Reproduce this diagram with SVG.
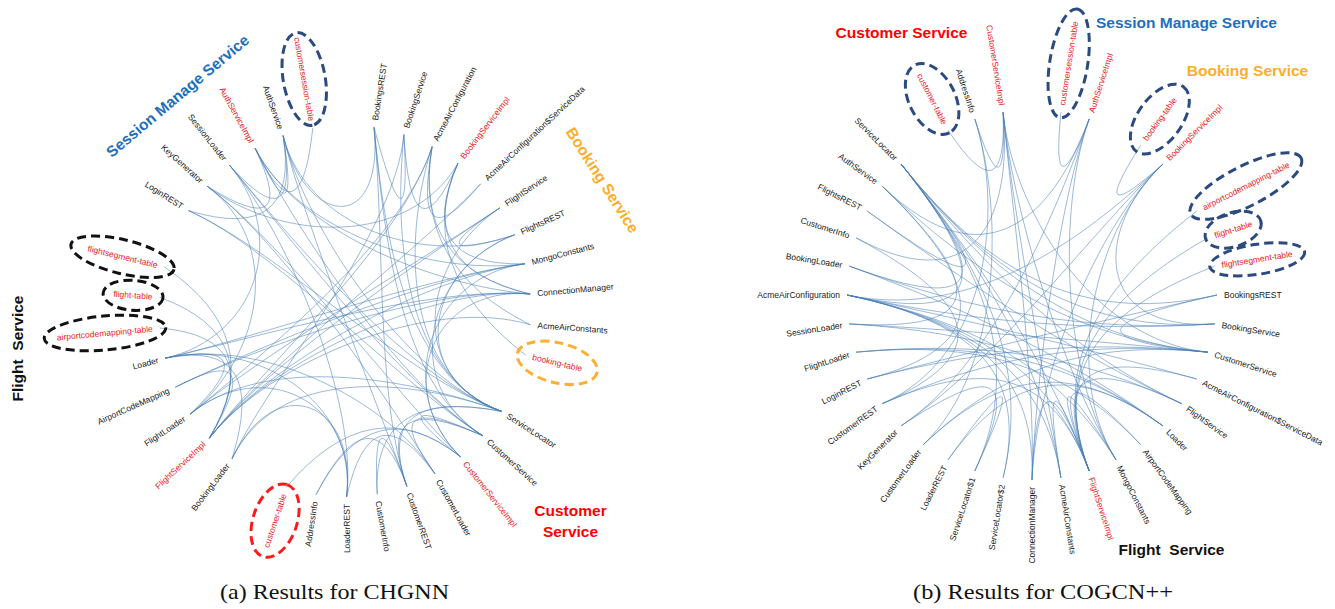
<svg xmlns="http://www.w3.org/2000/svg" width="1335" height="609" viewBox="0 0 1335 609">
<style>
.lbl{font-family:"Liberation Sans",Arial,sans-serif;font-size:8.5px;fill:#1a1a1a}
.red{fill:#e8201d}
.edges path{fill:none;stroke:#4a80b6;stroke-opacity:.55;stroke-width:1}
.ttl{font-family:"Liberation Sans",Arial,sans-serif;font-weight:bold;font-size:15.5px}
.ell{fill:none;stroke-width:3;stroke-dasharray:9 5}
.navy{stroke:#2b4a7e}
.blk{stroke:#111}
.rde{stroke:#ff1a1a}
.org{stroke:#fbb034}
.cap{font-family:"Liberation Serif","Times New Roman",serif;font-size:22px;fill:#111}
</style>
<rect width="1335" height="609" fill="#fff"/>

<!-- LEFT DIAGRAM connectors -->
<g id="left-connectors" class="edges" transform="translate(345 311)">
<path d="M-61.9,-175.4C-39.2,-83.5 59.4,65.2 156.6,100.4"/>
<path d="M-89.9,-162.8C-47.6,-79.7 86.5,-25.7 185.2,-17"/>
<path d="M-89.9,-162.8C-47.6,-79.7 84.9,-34.8 179.9,-47.2"/>
<path d="M-89.9,-162.8C-47.6,-79.7 53.8,72.5 137.9,124.8"/>
<path d="M-115.5,-145.8C-55.3,-74.6 59.4,65.2 156.6,100.4"/>
<path d="M-115.5,-145.8C-55.3,-74.6 53.8,72.5 137.9,124.8"/>
<path d="M-137.9,-124.8C-62,-68.3 47.1,78.8 115.5,145.8"/>
<path d="M-137.9,-124.8C-62,-68.3 64.8,-64.9 113,-147.8"/>
<path d="M-156.6,-100.4C-67.6,-61 59.4,65.2 156.6,100.4"/>
<path d="M-156.6,-100.4C-67.6,-61 53.8,72.5 137.9,124.8"/>
<path d="M-179.9,47.2C-89.1,26.6 -55.3,-74.6 -115.5,-145.8"/>
<path d="M-179.9,47.2C-89.1,26.6 39.4,83.9 89.9,162.8"/>
<path d="M-179.9,47.2C-89.1,26.6 84.9,-34.8 179.9,-47.2"/>
<path d="M-179.9,47.2C-89.1,26.6 86.5,-25.7 185.2,-17"/>
<path d="M-169.7,76.2C-86,35.3 86.5,-25.7 185.2,-17"/>
<path d="M-169.7,76.2C-86,35.3 84.9,-34.8 179.9,-47.2"/>
<path d="M-154.8,103.1C-81.5,43.3 77.3,-51.5 154.8,-103.1"/>
<path d="M-154.8,103.1C-81.5,43.3 59.4,65.2 156.6,100.4"/>
<path d="M-135.7,127.2C-75.8,50.6 77.3,-51.5 154.8,-103.1"/>
<path d="M-135.7,127.2C-75.8,50.6 86.5,-25.7 185.2,-17"/>
<path d="M-135.7,127.2C-75.8,50.6 84.9,-34.8 179.9,-47.2"/>
<path d="M-135.7,127.2C-75.8,50.6 86.6,-16.5 185.5,13.8"/>
<path d="M-135.7,127.2C-75.8,50.6 57,-69.9 87.1,-164.3"/>
<path d="M-135.7,127.2C-75.8,50.6 71.6,-58.8 135.7,-127.2"/>
<path d="M-113,147.8C-69,56.7 48.6,-73.5 58.9,-176.4"/>
<path d="M-113,147.8C-69,56.7 59.4,65.2 156.6,100.4"/>
<path d="M1.6,186C12.9,90.9 -89.1,26.6 -179.9,47.2"/>
<path d="M1.6,186C12.9,90.9 -55.3,-74.6 -115.5,-145.8"/>
<path d="M1.6,186C12.9,90.9 -81.5,43.3 -154.8,103.1"/>
<path d="M1.6,186C12.9,90.9 -69,56.7 -113,147.8"/>
<path d="M61.9,175.4C31,87.7 39.6,-75.7 29,-183.7"/>
<path d="M115.5,145.8C47.1,78.8 86.5,-25.7 185.2,-17"/>
<path d="M115.5,145.8C47.1,78.8 84.9,-34.8 179.9,-47.2"/>
<path d="M156.6,100.4C59.4,65.2 57,-69.9 87.1,-164.3"/>
<path d="M156.6,100.4C59.4,65.2 48.6,-73.5 58.9,-176.4"/>
<path d="M156.6,100.4C59.4,65.2 77.3,-51.5 154.8,-103.1"/>
<path d="M169.7,-76.2C81.8,-43.5 59.4,65.2 156.6,100.4"/>
<path d="M169.7,-76.2C81.8,-43.5 53.8,72.5 137.9,124.8"/>
<path d="M29,-183.7C39.6,-75.7 59.4,65.2 156.6,100.4"/>
<path d="M29,-183.7C39.6,-75.7 53.8,72.5 137.9,124.8"/>
<path d="M87.1,-164.3C57,-69.9 -81.5,43.3 -154.8,103.1"/>
<path d="M-61.9,-175.4C-39.2,-83.5 39.6,-75.7 29,-183.7"/>
<path d="M-61.9,-175.4C-39.2,-83.5 31,87.7 61.9,175.4"/>
<path d="M-61.9,-175.4C-39.2,-83.5 81.8,-43.5 169.7,-76.2"/>
<path d="M-137.9,-124.8C-62,-68.3 39.4,83.9 89.9,162.8"/>
<path d="M-137.9,-124.8C-62,-68.3 -81.5,43.3 -154.8,103.1"/>
<path d="M-32.2,-183.2Q-44.4,-66.6 -89.9,-162.8"/>
<path d="M-61.9,-175.4Q-44.4,-66.6 -89.9,-162.8"/>
<path d="M-115.5,-145.8Q-44.4,-66.6 -61.9,-175.4"/>
<path d="M-156.6,-100.4Q-44.4,-66.6 -61.9,-175.4"/>
<path d="M-137.9,-124.8Q-44.4,-66.6 -89.9,-162.8"/>
<path d="M180.7,44.1Q66.6,-44.4 113,-147.8"/>
<path d="M135.7,-127.2Q66.6,-44.4 87.1,-164.3"/>
<path d="M58.9,-176.4Q66.6,-44.4 29,-183.7"/>
<path d="M113,-147.8Q66.6,-44.4 58.9,-176.4"/>
<path d="M169.7,-76.2Q66.6,-44.4 154.8,-103.1"/>
<path d="M185.2,-17Q66.6,-44.4 87.1,-164.3"/>
<path d="M179.9,-47.2Q66.6,-44.4 113,-147.8"/>
<path d="M185.5,13.8Q66.6,-44.4 87.1,-164.3"/>
<path d="M185.2,-17Q66.6,-44.4 113,-147.8"/>
<path d="M-58.9,176.4Q26.6,75.4 115.5,145.8"/>
<path d="M-29,183.7Q26.6,75.4 115.5,145.8"/>
<path d="M32.2,183.2Q26.6,75.4 61.9,175.4"/>
<path d="M61.9,175.4Q26.6,75.4 137.9,124.8"/>
<path d="M89.9,162.8Q26.6,75.4 137.9,124.8"/>
<path d="M115.5,145.8Q26.6,75.4 137.9,124.8"/>
<path d="M1.6,186Q26.6,75.4 89.9,162.8"/>
<path d="M61.9,175.4Q26.6,75.4 156.6,100.4"/>
<path d="M32.2,183.2Q26.6,75.4 156.6,100.4"/>
<path d="M-29,183.7Q26.6,75.4 61.9,175.4"/>
<path d="M-180.7,-44.1Q-75.4,26.6 -135.7,127.2"/>
<path d="M-185.5,-13.8Q-75.4,26.6 -135.7,127.2"/>
<path d="M-185.2,17Q-75.4,26.6 -135.7,127.2"/>
<path d="M-179.9,47.2Q-75.4,26.6 -154.8,103.1"/>
<path d="M-179.9,47.2Q-75.4,26.6 -113,147.8"/>
<path d="M-169.7,76.2Q-75.4,26.6 -135.7,127.2"/>
</g>

<!-- LEFT DIAGRAM nodes -->
<g id="left-nodes" class="lbl">
<g id="L-BookingsREST" transform="translate(345 311) rotate(-81.03)"><text x="193" dy=".35em">BookingsREST</text></g>
<g id="L-BookingService" transform="translate(345 311) rotate(-71.55)"><text x="193" dy=".35em">BookingService</text></g>
<g id="L-AcmeAirConfiguration" transform="translate(345 311) rotate(-62.08)"><text x="193" dy=".35em">AcmeAirConfiguration</text></g>
<g id="L-BookingServiceImpl" transform="translate(345 311) rotate(-52.61)"><text class="red" x="193" dy=".35em">BookingServiceImpl</text></g>
<g id="L-AcmeAirConfigurationServiceData" transform="translate(345 311) rotate(-43.13)"><text x="193" dy=".35em">AcmeAirConfiguration$ServiceData</text></g>
<g id="L-FlightService" transform="translate(345 311) rotate(-33.66)"><text x="193" dy=".35em">FlightService</text></g>
<g id="L-FlightsREST" transform="translate(345 311) rotate(-24.18)"><text x="193" dy=".35em">FlightsREST</text></g>
<g id="L-MongoConstants" transform="translate(345 311) rotate(-14.71)"><text x="193" dy=".35em">MongoConstants</text></g>
<g id="L-ConnectionManager" transform="translate(345 311) rotate(-5.24)"><text x="193" dy=".35em">ConnectionManager</text></g>
<g id="L-AcmeAirConstants" transform="translate(345 311) rotate(4.24)"><text x="193" dy=".35em">AcmeAirConstants</text></g>
<g id="L-booking-table" transform="translate(345 311) rotate(13.71)"><ellipse class="ell org" cx="218.5" cy="0" rx="41" ry="20"/><text class="red" x="193" dy=".35em">booking-table</text></g>
<g id="L-ServiceLocator" transform="translate(345 311) rotate(32.66)"><text x="193" dy=".35em">ServiceLocator</text></g>
<g id="L-CustomerService" transform="translate(345 311) rotate(42.13)"><text x="193" dy=".35em">CustomerService</text></g>
<g id="L-CustomerServiceImpl" transform="translate(345 311) rotate(51.61)"><text class="red" x="193" dy=".35em">CustomerServiceImpl</text></g>
<g id="L-CustomerLoader" transform="translate(345 311) rotate(61.08)"><text x="193" dy=".35em">CustomerLoader</text></g>
<g id="L-CustomerREST" transform="translate(345 311) rotate(70.55)"><text x="193" dy=".35em">CustomerREST</text></g>
<g id="L-CustomerInfo" transform="translate(345 311) rotate(80.03)"><text x="193" dy=".35em">CustomerInfo</text></g>
<g id="L-LoaderREST" transform="translate(345 311) rotate(269.5)"><text x="-193" dy=".35em" text-anchor="end">LoaderREST</text></g>
<g id="L-AddressInfo" transform="translate(345 311) rotate(278.97)"><text x="-193" dy=".35em" text-anchor="end">AddressInfo</text></g>
<g id="L-customer-table" transform="translate(345 311) rotate(288.45)"><ellipse class="ell rde" cx="-221" cy="0" rx="38" ry="22"/><text class="red" x="-193" dy=".35em" text-anchor="end">customer-table</text></g>
<g id="L-BookingLoader" transform="translate(345 311) rotate(307.4)"><text x="-193" dy=".35em" text-anchor="end">BookingLoader</text></g>
<g id="L-FlightServiceImpl" transform="translate(345 311) rotate(316.87)"><text class="red" x="-193" dy=".35em" text-anchor="end">FlightServiceImpl</text></g>
<g id="L-FlightLoader" transform="translate(345 311) rotate(326.34)"><text x="-193" dy=".35em" text-anchor="end">FlightLoader</text></g>
<g id="L-AirportCodeMapping" transform="translate(345 311) rotate(335.82)"><text x="-193" dy=".35em" text-anchor="end">AirportCodeMapping</text></g>
<g id="L-Loader" transform="translate(345 311) rotate(345.29)"><text x="-193" dy=".35em" text-anchor="end">Loader</text></g>
<g id="L-airportcodemapping-table" transform="translate(345 311) rotate(354.76)"><ellipse class="ell blk" cx="-241" cy="0" rx="61" ry="17"/><text class="red" x="-193" dy=".35em" text-anchor="end">airportcodemapping-table</text></g>
<g id="L-flight-table" transform="translate(345 311) rotate(4.24)"><ellipse class="ell blk" cx="-212.5" cy="0" rx="30" ry="15"/><text class="red" x="-193" dy=".35em" text-anchor="end">flight-table</text></g>
<g id="L-flightsegment-table" transform="translate(345 311) rotate(13.71)"><ellipse class="ell blk" cx="-229" cy="0" rx="53" ry="17"/><text class="red" x="-193" dy=".35em" text-anchor="end">flightsegment-table</text></g>
<g id="L-LoginREST" transform="translate(345 311) rotate(32.66)"><text x="-193" dy=".35em" text-anchor="end">LoginREST</text></g>
<g id="L-KeyGenerator" transform="translate(345 311) rotate(42.13)"><text x="-193" dy=".35em" text-anchor="end">KeyGenerator</text></g>
<g id="L-SessionLoader" transform="translate(345 311) rotate(51.61)"><text x="-193" dy=".35em" text-anchor="end">SessionLoader</text></g>
<g id="L-AuthServiceImpl" transform="translate(345 311) rotate(61.08)"><text class="red" x="-193" dy=".35em" text-anchor="end">AuthServiceImpl</text></g>
<g id="L-AuthService" transform="translate(345 311) rotate(70.55)"><text x="-193" dy=".35em" text-anchor="end">AuthService</text></g>
<g id="L-customersession-table" transform="translate(345 311) rotate(80.03)"><ellipse class="ell navy" cx="-235.5" cy="0" rx="47" ry="21"/><text class="red" x="-193" dy=".35em" text-anchor="end">customersession-table</text></g>
</g>

<!-- RIGHT DIAGRAM connectors -->
<g id="right-connectors" class="edges" transform="translate(1032 295)">
<path d="M-84,-164.8Q-24.7,-76.1 -28.9,-182.7"/>
<path d="M-57.2,-176Q-24.7,-76.1 -28.9,-182.7"/>
<path d="M28.9,-182.7Q18.6,-77.8 57.2,-176"/>
<path d="M108.7,-149.7Q51.9,-60.8 130.8,-130.8"/>
<path d="M-57.2,-176C-28.7,-88.2 -40.9,60.6 -149.7,108.7"/>
<path d="M-57.2,-176C-28.7,-88.2 -28.6,72.9 -108.7,149.7"/>
<path d="M-28.9,-182.7C-20.2,-90.2 56.8,45.2 176,57.2"/>
<path d="M-28.9,-182.7C-20.2,-90.2 4,83.5 0,185"/>
<path d="M-28.9,-182.7C-20.2,-90.2 29.2,77.4 84,164.8"/>
<path d="M-28.9,-182.7C-20.2,-90.2 -48.8,10.8 -176,-57.2"/>
<path d="M-28.9,-182.7C-20.2,-90.2 12.7,82.8 28.9,182.7"/>
<path d="M57.2,-176C25.9,-89 -40.9,-4.6 -149.7,-108.7"/>
<path d="M57.2,-176C25.9,-89 -35.2,67.2 -130.8,130.8"/>
<path d="M57.2,-176C25.9,-89 4,83.5 0,185"/>
<path d="M57.2,-176C25.9,-89 29.2,77.4 84,164.8"/>
<path d="M130.8,-130.8C63.4,-67.5 58.8,36.7 182.7,28.9"/>
<path d="M130.8,-130.8C63.4,-67.5 -35.2,67.2 -130.8,130.8"/>
<path d="M130.8,-130.8C63.4,-67.5 4,83.5 0,185"/>
<path d="M130.8,-130.8C63.4,-67.5 29.2,77.4 84,164.8"/>
<path d="M130.8,-130.8C63.4,-67.5 -51.5,28 -185,0"/>
<path d="M164.8,-84C53.4,2.8 21.2,80.8 57.2,176"/>
<path d="M176,-57.2C56.8,10.8 21.2,80.8 57.2,176"/>
<path d="M182.7,-28.9C58.8,19.3 21.2,80.8 57.2,176"/>
<path d="M185,0C59.5,28 -35.2,-11.2 -130.8,-130.8"/>
<path d="M185,0C59.5,28 56.8,45.2 176,57.2"/>
<path d="M182.7,28.9C58.8,36.7 -35.2,-11.2 -130.8,-130.8"/>
<path d="M182.7,28.9C58.8,36.7 -50.8,19.3 -182.7,-28.9"/>
<path d="M176,57.2C56.8,45.2 -35.2,-11.2 -130.8,-130.8"/>
<path d="M176,57.2C56.8,45.2 -40.9,60.6 -149.7,108.7"/>
<path d="M176,57.2C56.8,45.2 -45.4,53.2 -164.8,84"/>
<path d="M176,57.2C56.8,45.2 -28.6,72.9 -108.7,149.7"/>
<path d="M176,57.2C56.8,45.2 -40.9,-4.6 -149.7,-108.7"/>
<path d="M176,57.2C56.8,45.2 -50.8,36.7 -182.7,28.9"/>
<path d="M164.8,84C53.4,53.2 -51.5,28 -185,0"/>
<path d="M149.7,108.7C48.9,60.6 -35.2,-11.2 -130.8,-130.8"/>
<path d="M149.7,108.7C48.9,60.6 -45.4,2.8 -164.8,-84"/>
<path d="M149.7,108.7C48.9,60.6 -48.8,45.2 -176,57.2"/>
<path d="M149.7,108.7C48.9,60.6 21.2,80.8 57.2,176"/>
<path d="M130.8,130.8C43.2,67.2 -21.2,77.4 -84,164.8"/>
<path d="M130.8,130.8C43.2,67.2 -28.6,72.9 -108.7,149.7"/>
<path d="M130.8,130.8C43.2,67.2 -48.8,45.2 -176,57.2"/>
<path d="M130.8,130.8C43.2,67.2 -50.8,36.7 -182.7,28.9"/>
<path d="M130.8,130.8C43.2,67.2 -50.8,19.3 -182.7,-28.9"/>
<path d="M108.7,149.7C36.6,72.9 -48.8,45.2 -176,57.2"/>
<path d="M108.7,149.7C36.6,72.9 21.2,80.8 57.2,176"/>
<path d="M84,164.8C29.2,77.4 21.2,80.8 57.2,176"/>
<path d="M84,164.8C29.2,77.4 -51.5,28 -185,0"/>
<path d="M57.2,176C21.2,80.8 4,83.5 0,185"/>
<path d="M57.2,176C21.2,80.8 12.7,82.8 28.9,182.7"/>
<path d="M57.2,176C21.2,80.8 -51.5,28 -185,0"/>
<path d="M-28.9,182.7C-4.7,82.8 -35.2,-11.2 -130.8,-130.8"/>
<path d="M-28.9,182.7C-4.7,82.8 -51.5,28 -185,0"/>
<path d="M-57.2,176C-13.2,80.8 -35.2,-11.2 -130.8,-130.8"/>
<path d="M-57.2,176C-13.2,80.8 -21.2,77.4 -84,164.8"/>
<path d="M0,185C4,83.5 -51.5,28 -185,0"/>
<path d="M28.9,182.7C12.7,82.8 -51.5,28 -185,0"/>
<path d="M-149.7,-108.7C-40.9,-4.6 -45.4,53.2 -164.8,84"/>
<path d="M-185,0C-51.5,28 -35.2,-11.2 -130.8,-130.8"/>
<path d="M-164.8,-84C-45.4,2.8 -35.2,-11.2 -130.8,-130.8"/>
<path d="M-176,-57.2C-48.8,10.8 -40.9,60.6 -149.7,108.7"/>
<path d="M-182.7,-28.9C-50.8,19.3 -35.2,-11.2 -130.8,-130.8"/>
<path d="M-182.7,28.9C-50.8,36.7 -40.9,-4.6 -149.7,-108.7"/>
<path d="M-130.8,130.8C-35.2,67.2 -13.2,80.8 -57.2,176"/>
<path d="M164.8,84C53.4,53.2 21.2,80.8 57.2,176"/>
<path d="M57.2,176C21.2,80.8 -35.2,-11.2 -130.8,-130.8"/>
<path d="M57.2,176C21.2,80.8 -40.9,60.6 -149.7,108.7"/>
<path d="M-130.8,-130.8C-35.2,-11.2 12.7,82.8 28.9,182.7"/>
<path d="M182.7,28.9C58.8,36.7 -51.5,28 -185,0"/>
<path d="M185,0C59.5,28 -45.4,53.2 -164.8,84"/>
</g>

<!-- RIGHT DIAGRAM nodes -->
<g id="right-nodes" class="lbl">
<g id="R-BookingsREST" transform="translate(1032 295) rotate(0)"><text x="192" dy=".35em">BookingsREST</text></g>
<g id="R-BookingService" transform="translate(1032 295) rotate(9)"><text x="192" dy=".35em">BookingService</text></g>
<g id="R-CustomerService" transform="translate(1032 295) rotate(18)"><text x="192" dy=".35em">CustomerService</text></g>
<g id="R-AcmeAirConfigurationServiceData" transform="translate(1032 295) rotate(27)"><text x="192" dy=".35em">AcmeAirConfiguration$ServiceData</text></g>
<g id="R-FlightService" transform="translate(1032 295) rotate(36)"><text x="192" dy=".35em">FlightService</text></g>
<g id="R-Loader" transform="translate(1032 295) rotate(45)"><text x="192" dy=".35em">Loader</text></g>
<g id="R-AirportCodeMapping" transform="translate(1032 295) rotate(54)"><text x="192" dy=".35em">AirportCodeMapping</text></g>
<g id="R-MongoConstants" transform="translate(1032 295) rotate(63)"><text x="192" dy=".35em">MongoConstants</text></g>
<g id="R-FlightServiceImpl" transform="translate(1032 295) rotate(72)"><text class="red" x="192" dy=".35em">FlightServiceImpl</text></g>
<g id="R-AcmeAirConstants" transform="translate(1032 295) rotate(81)"><text x="192" dy=".35em">AcmeAirConstants</text></g>
<g id="R-ConnectionManager" transform="translate(1032 295) rotate(270)"><text x="-192" dy=".35em" text-anchor="end">ConnectionManager</text></g>
<g id="R-ServiceLocator2" transform="translate(1032 295) rotate(279)"><text x="-192" dy=".35em" text-anchor="end">ServiceLocator$2</text></g>
<g id="R-ServiceLocator1" transform="translate(1032 295) rotate(288)"><text x="-192" dy=".35em" text-anchor="end">ServiceLocator$1</text></g>
<g id="R-LoaderREST" transform="translate(1032 295) rotate(297)"><text x="-192" dy=".35em" text-anchor="end">LoaderREST</text></g>
<g id="R-CustomerLoader" transform="translate(1032 295) rotate(306)"><text x="-192" dy=".35em" text-anchor="end">CustomerLoader</text></g>
<g id="R-KeyGenerator" transform="translate(1032 295) rotate(315)"><text x="-192" dy=".35em" text-anchor="end">KeyGenerator</text></g>
<g id="R-CustomerREST" transform="translate(1032 295) rotate(324)"><text x="-192" dy=".35em" text-anchor="end">CustomerREST</text></g>
<g id="R-LoginREST" transform="translate(1032 295) rotate(333)"><text x="-192" dy=".35em" text-anchor="end">LoginREST</text></g>
<g id="R-FlightLoader" transform="translate(1032 295) rotate(342)"><text x="-192" dy=".35em" text-anchor="end">FlightLoader</text></g>
<g id="R-SessionLoader" transform="translate(1032 295) rotate(351)"><text x="-192" dy=".35em" text-anchor="end">SessionLoader</text></g>
<g id="R-AcmeAirConfiguration" transform="translate(1032 295) rotate(0)"><text x="-192" dy=".35em" text-anchor="end">AcmeAirConfiguration</text></g>
<g id="R-BookingLoader" transform="translate(1032 295) rotate(9)"><text x="-192" dy=".35em" text-anchor="end">BookingLoader</text></g>
<g id="R-CustomerInfo" transform="translate(1032 295) rotate(18)"><text x="-192" dy=".35em" text-anchor="end">CustomerInfo</text></g>
<g id="R-FlightsREST" transform="translate(1032 295) rotate(27)"><text x="-192" dy=".35em" text-anchor="end">FlightsREST</text></g>
<g id="R-AuthService" transform="translate(1032 295) rotate(36)"><text x="-192" dy=".35em" text-anchor="end">AuthService</text></g>
<g id="R-ServiceLocator" transform="translate(1032 295) rotate(45)"><text x="-192" dy=".35em" text-anchor="end">ServiceLocator</text></g>
<g id="R-customer-table" transform="translate(1032 295) rotate(63)"><ellipse class="ell navy" cx="-220" cy="0" rx="38" ry="23"/><text class="red" x="-192" dy=".35em" text-anchor="end">customer-table</text></g>
<g id="R-AddressInfo" transform="translate(1032 295) rotate(72)"><text x="-192" dy=".35em" text-anchor="end">AddressInfo</text></g>
<g id="R-CustomerServiceImpl" transform="translate(1032 295) rotate(81)"><text class="red" x="-192" dy=".35em" text-anchor="end">CustomerServiceImpl</text></g>
<g id="R-customersession-table" transform="translate(1032 295) rotate(-81)"><ellipse class="ell navy" cx="234.5" cy="0" rx="55" ry="19"/><text class="red" x="192" dy=".35em">customersession-table</text></g>
<g id="R-AuthServiceImpl" transform="translate(1032 295) rotate(-72)"><text class="red" x="192" dy=".35em">AuthServiceImpl</text></g>
<g id="R-booking-table" transform="translate(1032 295) rotate(-54)"><ellipse class="ell navy" cx="217.5" cy="0" rx="40" ry="22"/><text class="red" x="192" dy=".35em">booking-table</text></g>
<g id="R-BookingServiceImpl" transform="translate(1032 295) rotate(-45)"><text class="red" x="192" dy=".35em">BookingServiceImpl</text></g>
<g id="R-airportcodemapping-table" transform="translate(1032 295) rotate(-27)"><ellipse class="ell navy" cx="240" cy="0" rx="62" ry="20"/><text class="red" x="192" dy=".35em">airportcodemapping-table</text></g>
<g id="R-flight-table" transform="translate(1032 295) rotate(-18)"><ellipse class="ell navy" cx="211.5" cy="0" rx="29" ry="17"/><text class="red" x="192" dy=".35em">flight-table</text></g>
<g id="R-flightsegment-table" transform="translate(1032 295) rotate(-9)"><ellipse class="ell navy" cx="228" cy="0" rx="48" ry="15"/><text class="red" x="192" dy=".35em">flightsegment-table</text></g>
</g>

<!-- Group titles -->
<g id="titles" class="ttl" text-anchor="middle">
<text transform="translate(181 100) rotate(-40)" fill="#1e6fbe">Session Manage Service</text>
<text transform="translate(598 183) rotate(57.5)" fill="#fcae2a">Booking Service</text>
<text transform="translate(23 348.5) rotate(-90)" fill="#111" xml:space="preserve" style="white-space:pre">Flight  Service</text>
<text x="570.5" y="516" fill="#ff0000">Customer</text>
<text x="570.5" y="537" fill="#ff0000">Service</text>
<text x="901.5" y="38" fill="#ff0000">Customer Service</text>
<text x="1186.5" y="28" fill="#1e6fbe">Session Manage Service</text>
<text x="1247.5" y="76" fill="#fcae2a">Booking Service</text>
<text x="1171.5" y="555" fill="#111" xml:space="preserve" style="white-space:pre">Flight  Service</text>
</g>

<!-- Captions -->
<text class="cap" x="334.5" y="599" text-anchor="middle" textLength="229" lengthAdjust="spacingAndGlyphs">(a) Results for CHGNN</text>
<text class="cap" x="1043" y="599" text-anchor="middle" textLength="260" lengthAdjust="spacingAndGlyphs">(b) Results for COGCN++</text>
</svg>
